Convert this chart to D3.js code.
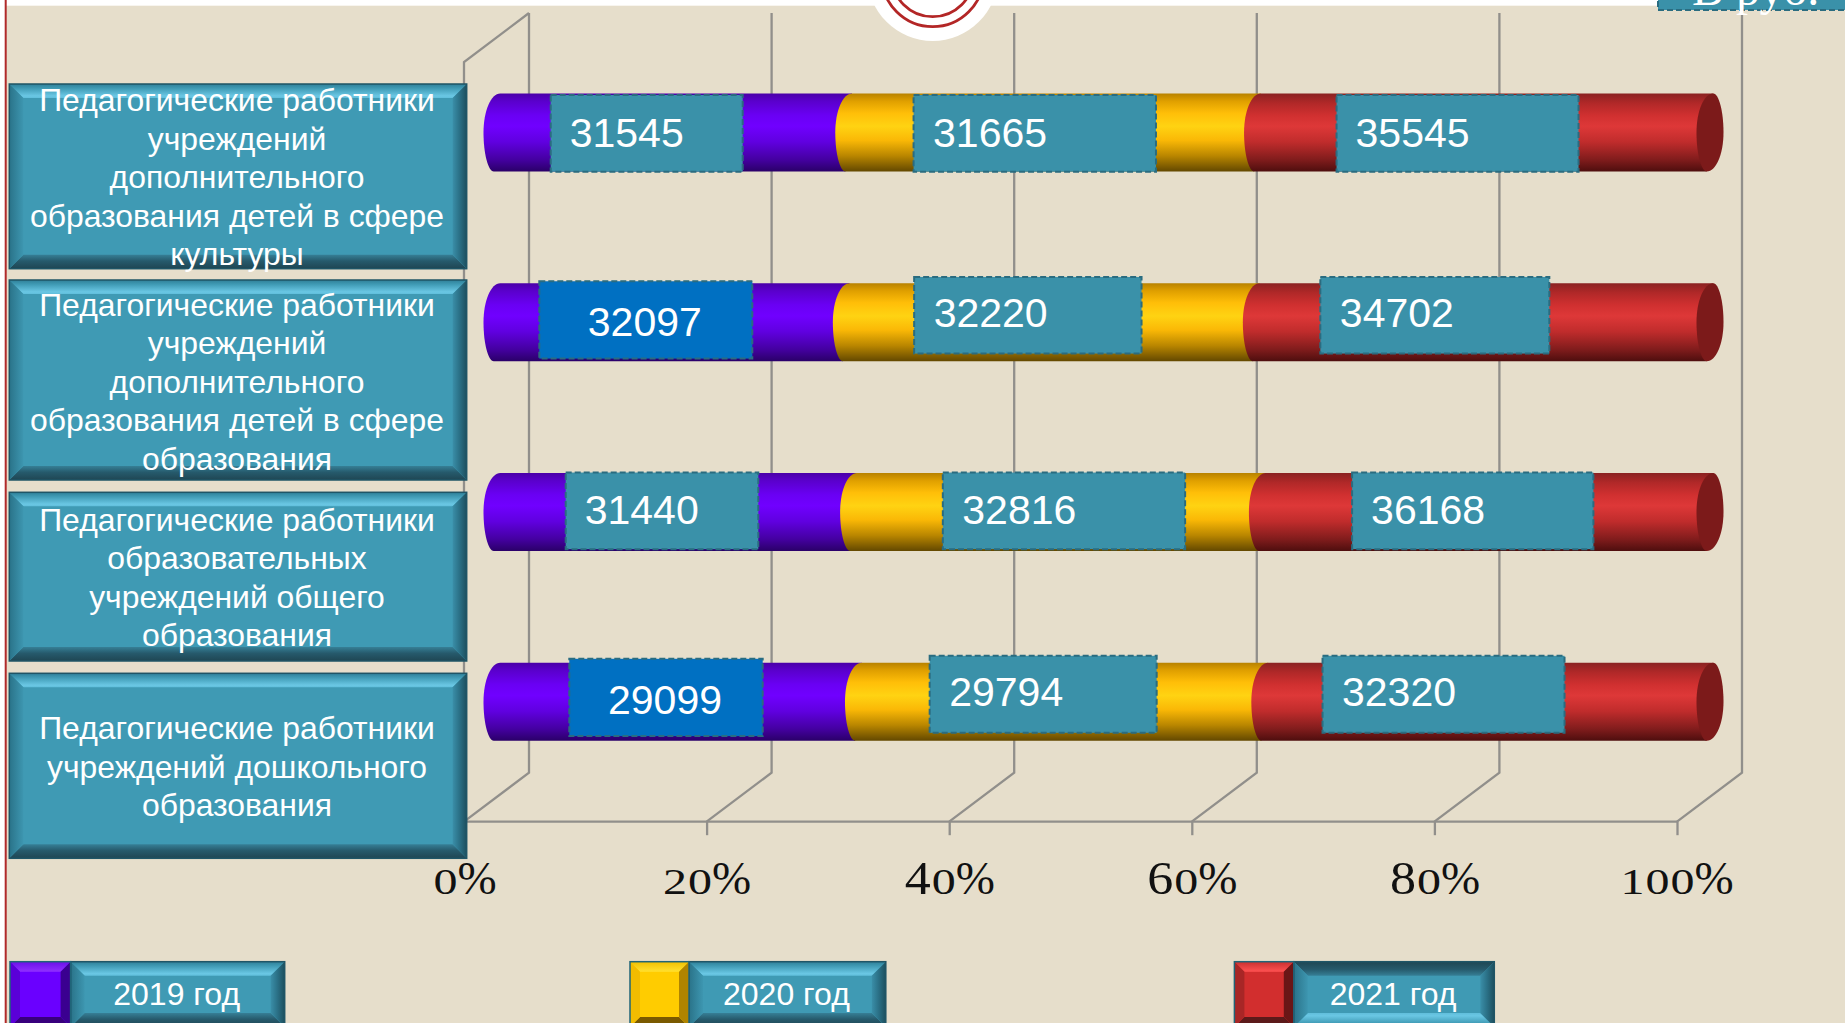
<!DOCTYPE html>
<html lang="ru"><head><meta charset="utf-8">
<script src="https://cdnjs.cloudflare.com/ajax/libs/d3/7.8.5/d3.min.js"></script>
<style>html,body{margin:0;padding:0;background:#fff;overflow:hidden}svg{display:block}text{font-family:"Liberation Sans",Arial,sans-serif}</style>
</head><body><svg id="c" width="1845" height="1023"></svg>
<script>
// ---------- data (top to bottom) ----------
const categories = [
  ["Педагогические работники","учреждений","дополнительного","образования детей в сфере","культуры"],
  ["Педагогические работники","учреждений","дополнительного","образования детей в сфере","образования"],
  ["Педагогические работники","образовательных","учреждений общего","образования"],
  ["Педагогические работники","учреждений дошкольного","образования"]
];
const seriesNames = ["2019 год","2020 год","2021 год"];
// visible shares of each bar, %
const share2019 = [29.0,28.8,29.4,29.8];
const share2020 = [33.7,33.8,33.7,33.5];
const share2021 = [37.3,37.4,36.9,36.7];
// printed labels
const labels2019 = [31545,32097,31440,29099];
const labels2020 = [31665,32220,32816,29794];
const labels2021 = [35545,34702,36168,32320];
const tickValues = [0,20,40,60,80,100];
const unitLabel = "В руб.";

// ---------- layout ----------
const W=1845,H=1023;
const GRID="#918f8b", BG="#e6decb";
const depthX=65, depthY=49, floorY=821.7, topY=13, tickLen=13.5;
const cylDX=33, rx=13.5, skew=3.3, halfH=39;
// manually placed label boxes: [dx from segment start, width, dy from row centre, height, text inset / -1 = centred, baseline from box top]
const labelLayout = [
 [[53.7,192,-37.5,76.7,19,51.5],[64.8,242.4,-37.5,76.7,19.5,51.5],[79,242,-37.5,76.7,19,51.5]],
 [[42.3,213,-41,77.3,-1,55],[67.8,227.4,-45.3,76.6,19.5,50.2],[64,229,-45.3,76.6,19.5,50.2]],
 [[68.7,192.6,-39.5,76.6,19,51.3],[89.2,242.3,-39.5,76.6,19.5,51.3],[89.7,241.3,-39.5,76.6,19,51.3]],
 [[72.3,193.4,-43,77.3,-1.5,55.6],[71.2,227,-46,77,19.5,50],[57.7,242,-46,77,19.5,50]]
];
const labelBlue = [[false,false,false],[true,false,false],[false,false,false],[true,false,false]];
const catBoxes = [[84,268.7,111],[280,480,315.5],[492.3,661,530.5],[673.3,858.3,739]];
const legendLayout = [[10,70.6,284.7],[630,689,885.8],[1234.4,1293.8,1494.3]];

const palette = [
 {id:"p",stops:[[0,"#4a00a8"],[.1,"#5a00cc"],[.28,"#6a00f4"],[.42,"#7000ff"],[.62,"#6000e0"],[.85,"#4400a0"],[1,"#2a0068"]],
  sw:{face:"#6a00ff",t0:"#6a10e8",t1:"#9030ff",l:"#5a00d8",r:"#3a0090",b:"#38007c"}},
 {id:"y",stops:[[0,"#b88200"],[.1,"#e0a000"],[.25,"#ffbe08"],[.42,"#ffd312"],[.6,"#fab806"],[.8,"#b98600"],[1,"#634800"]],
  sw:{face:"#ffcc00",t0:"#f0c000",t1:"#ffe030",l:"#f2bc00",r:"#b08400",b:"#7a5a00"}},
 {id:"r",stops:[[0,"#8a2222"],[.12,"#b02828"],[.28,"#d03030"],[.42,"#de3838"],[.62,"#c02c2c"],[.85,"#801c1c"],[1,"#4e0e0e"]],
  sw:{face:"#d22e2e",t0:"#c83030",t1:"#ff5252",l:"#a82626",r:"#6a1616",b:"#5c1a1a"}}
];
const capColor="#7c1a1a";

const svg=d3.select("#c");
const defs=svg.append("defs");
function grad(id,x2,y2,stops){
  const g=defs.append("linearGradient").attr("id",id).attr("x1",0).attr("y1",0).attr("x2",x2).attr("y2",y2);
  stops.forEach(s=>g.append("stop").attr("offset",s[0]).attr("stop-color",s[1]));
}
palette.forEach(p=>grad("cyl-"+p.id,0,1,p.stops));
grad("tT",0,1,[[0,"#2f7f98"],[.3,"#3f9ab4"],[.85,"#6ac7e4"],[1,"#60bedb"]]);
grad("tB",0,1,[[0,"#367f96"],[.45,"#265a6c"],[1,"#1f4653"]]);
grad("tL",1,0,[[0,"#2a7389"],[1,"#3d96b0"]]);
grad("tR",1,0,[[0,"#3a8ea8"],[.5,"#2a6f85"],[1,"#1d4f5e"]]);
grad("tTf",0,1,[[0,"#1f4653"],[.55,"#265a6c"],[1,"#367f96"]]);
grad("tBf",0,1,[[0,"#60bedb"],[.2,"#6ac7e4"],[.75,"#3f9ab4"],[1,"#2f7f98"]]);

// page background
svg.append("rect").attr("width",W).attr("height",H).attr("fill","#fff");
svg.append("rect").attr("x",6).attr("y",5.7).attr("width",W-6).attr("height",H).attr("fill",BG);
svg.append("rect").attr("x",4.7).attr("y",0).attr("width",2).attr("height",H).attr("fill","#b02a2a");
// emblem remnant
svg.append("circle").attr("cx",932.7).attr("cy",-24.3).attr("r",65.3).attr("fill","#fff");
[51,41].forEach(r=>svg.append("circle").attr("cx",932.7).attr("cy",-24.3).attr("r",r).attr("fill","none").attr("stroke","#b32626").attr("stroke-width",2.8));

// scales
const x=d3.scaleLinear().domain([0,100]).range([464,1677]);
const y=d3.scalePoint().domain(d3.range(categories.length)).range([132.5,701.8]);

// walls and floor
const grid=svg.append("g").attr("fill","none").attr("stroke",GRID).attr("stroke-width",2.3);
grid.selectAll("path.g").data(tickValues).join("path").attr("class","g")
  .attr("d",t=>`M${x(t)},${floorY}L${x(t)+depthX},${floorY-depthY}L${x(t)+depthX},${topY}`);
grid.append("path").attr("d",`M${x(0)},${floorY}L${x(0)},${topY+depthY}L${x(0)+depthX},${topY}`);

// axis
const axis=svg.append("g").attr("transform",`translate(0,${floorY})`)
  .call(d3.axisBottom(x).tickValues(tickValues).tickSize(tickLen).tickPadding(0).tickFormat(d=>d+"%"));
axis.select(".domain").attr("stroke",GRID).attr("stroke-width",2.3).attr("d",`M${x(0)},0H${x(100)}`);
axis.selectAll(".tick line").attr("stroke",GRID).attr("stroke-width",2.3);
axis.selectAll(".tick text").each(function(d){
  const chars=String(d).split("");
  const adv=c=>"012".includes(c)?26:28;
  const total=d3.sum(chars,adv)+38;
  const t=d3.select(this).text(null).attr("x",-total/2).attr("y",72.6).attr("dy",0).attr("text-anchor","start").attr("fill","#111");
  chars.forEach(ch=>{
    t.append("tspan").text(ch).style("font-family",'"Liberation Serif",serif')
     .attr("font-size","012".includes(ch)?35:46)
     .attr("textLength",adv(ch)-2).attr("lengthAdjust","spacingAndGlyphs").attr("dx",1);
  });
  t.append("tspan").text("%").style("font-family",'"Liberation Serif",serif').attr("font-size",47);
});

// stacked cylinders
const rows=categories.map((c,i)=>({i,a:share2019[i],b:share2020[i],c:share2021[i]}));
const stacked=d3.stack().keys(["a","b","c"])(rows);
const bx=v=>x(v)+cylDX;
function capPath(cx,cy){ // tilted ellipse, drawn through the left side
  return `M${cx+skew},${cy-halfH}C${cx-rx*0.55+skew*0.4},${cy-halfH} ${cx-rx},${cy-halfH*0.55} ${cx-rx},${cy}C${cx-rx},${cy+halfH*0.55} ${cx-rx*0.55-skew*0.4},${cy+halfH} ${cx-skew},${cy+halfH}`;
}
function capRight(cx,cy){
  return `M${cx-skew},${cy+halfH}C${cx+rx*0.55-skew*0.4},${cy+halfH} ${cx+rx},${cy+halfH*0.55} ${cx+rx},${cy}C${cx+rx},${cy-halfH*0.55} ${cx+rx*0.55+skew*0.4},${cy-halfH} ${cx+skew},${cy-halfH}`;
}
const bars=svg.append("g");
stacked.forEach((s,si)=>{
  bars.selectAll(null).data(s).join("path")
    .attr("fill",`url(#cyl-${palette[si].id})`)
    .attr("d",d=>{
      const i=d.data.i,cy=y(i),x0=bx(d[0]),x1=bx(d[1]);
      return capPath(x0,cy)+`L${x1-skew},${cy+halfH}L${x1+skew},${cy-halfH}Z`;
    });
});
bars.selectAll("path.cap").data(rows).join("path").attr("class","cap").attr("fill",capColor)
  .attr("d",d=>capPath(bx(100),y(d.i))+capRight(bx(100),y(d.i)).replace(/^M[^C]*/,"")+"Z");

// value labels
const labelSets=[labels2019,labels2020,labels2021];
const lg=svg.append("g");
stacked.forEach((s,si)=>{
  s.forEach((d,ri)=>{
    const L=labelLayout[ri][si], bl=labelBlue[ri][si];
    const bxx=bx(d[0])+L[0], byy=y(ri)+L[2];
    lg.append("rect").attr("x",bxx).attr("y",byy).attr("width",L[1]).attr("height",L[3])
      .attr("fill",bl?"#0070c2":"#3a91a9").attr("stroke","#2a6c80").attr("stroke-width",2).attr("stroke-dasharray","6 3");
    lg.append("text").attr("x",L[4]<0?bxx+L[1]/2-1:bxx+L[4]).attr("y",byy+L[5])
      .attr("text-anchor",L[4]<0?"middle":"start").attr("fill","#fff").attr("font-size",41).text(labelSets[si][ri]);
  });
});

// bevelled boxes
function bevel(g,x0,y0,x1,y1,b,c){
  const P=(pts,f)=>g.append("polygon").attr("points",pts.map(p=>p.join(",")).join(" ")).attr("fill",f);
  g.append("rect").attr("x",x0).attr("y",y0).attr("width",x1-x0).attr("height",y1-y0).attr("fill",c.face);
  P([[x0,y0],[x1,y0],[x1-b,y0+b],[x0+b,y0+b]],c.t);
  P([[x0,y1],[x1,y1],[x1-b,y1-b],[x0+b,y1-b]],c.b);
  P([[x0,y0],[x0+b,y0+b],[x0+b,y1-b],[x0,y1]],c.l);
  P([[x1,y0],[x1-b,y0+b],[x1-b,y1-b],[x1,y1]],c.r);
  g.append("rect").attr("x",x0).attr("y",y0).attr("width",x1-x0).attr("height",y1-y0).attr("fill","none").attr("stroke",c.o||"#1f5566").attr("stroke-width",1.5);
}
const teal={face:"#3f9ab4",t:"url(#tT)",b:"url(#tB)",l:"url(#tL)",r:"url(#tR)"};
const tealFlip={face:"#3f9ab4",t:"url(#tTf)",b:"url(#tBf)",l:"url(#tL)",r:"url(#tR)"};

// category boxes
const cg=svg.append("g").selectAll("g").data(categories).join("g");
cg.each(function(lines,i){
  const g=d3.select(this),B=catBoxes[i];
  bevel(g,9.3,B[0],466.7,B[1],14,teal);
  g.selectAll("text").data(lines).join("text")
    .attr("x",237).attr("y",(d,k)=>B[2]+k*38.5).attr("text-anchor","middle")
    .attr("fill","#fff").attr("font-size",31.9).text(d=>d);
});

// legend
const legY0=961.7, legY1=1027;
const leg=svg.append("g").selectAll("g").data(seriesNames).join("g");
leg.each(function(name,i){
  const g=d3.select(this),L=legendLayout[i],sw=palette[i].sw;
  bevel(g,L[1],legY0,L[2],legY1,14,i===2?tealFlip:teal);
  const id="sw"+i; grad(id,0,1,[[0,sw.t0],[1,sw.t1]]);
  bevel(g,L[0],legY0,L[1],legY1,10,{face:sw.face,t:`url(#${id})`,b:sw.b,l:sw.l,r:sw.r,o:"#1f6478"});
  g.append("text").attr("x",(L[1]+L[2])/2-1).attr("y",1005).attr("text-anchor","middle")
    .attr("fill","#fff").attr("font-size",32).text(name);
});

// unit box, cut by the top edge
svg.append("rect").attr("x",1658).attr("y",-10).attr("width",200).attr("height",20)
  .attr("fill","#3a91a9").attr("stroke","#2a6c80").attr("stroke-width",2).attr("stroke-dasharray","6 3");
svg.append("text").attr("x",1692).attr("y",5).attr("fill","#fff").attr("font-size",48)
  .style("font-family",'"Liberation Serif",serif').text(unitLabel);
</script></body></html>
